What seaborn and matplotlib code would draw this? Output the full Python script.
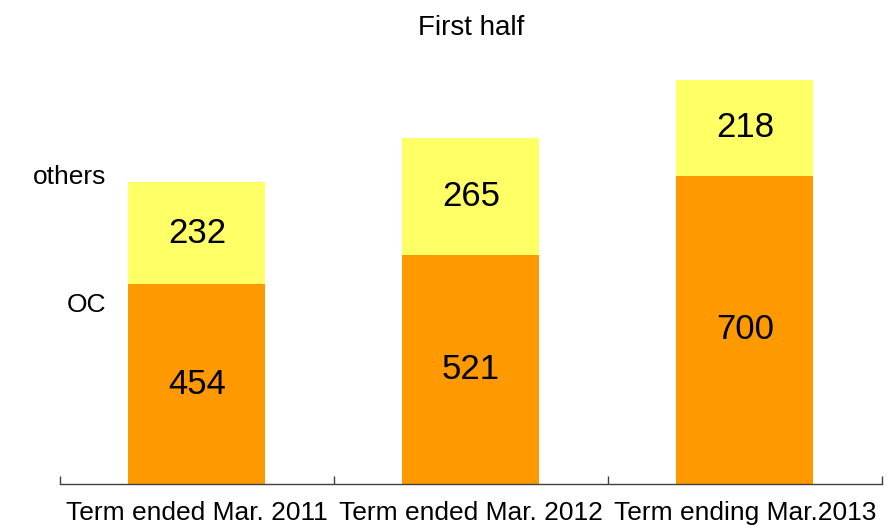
import numpy as np
import pandas as pd
import matplotlib.pyplot as plt
import seaborn as sns

# Datos (first half)
periodos = ["Term ended Mar. 2011", "Term ended Mar. 2012", "Term ending Mar.2013"]
oc = [454, 521, 700]
others = [232, 265, 218]

df = pd.DataFrame({"periodo": periodos, "oc": oc, "others": others})
df["total"] = df["oc"] + df["others"]

sns.set_style("white")
plt.rcParams["font.family"] = ["Liberation Sans", "DejaVu Sans"]
plt.rcParams["text.color"] = "black"
plt.rcParams["xtick.color"] = "black"

fig = plt.figure(figsize=(8.9, 5.28), dpi=100)
ax = fig.add_axes([0.0674, 0.0833, 0.9236, 0.834])

# barras apiladas: total en amarillo, OC encima en naranja
sns.barplot(data=df, x="periodo", y="total", color="#FFFF66", width=0.5,
            saturation=1, linewidth=0, ax=ax)
sns.barplot(data=df, x="periodo", y="oc", color="#FF9900", width=0.5,
            saturation=1, linewidth=0, ax=ax)

ax.bar_label(ax.containers[1], labels=[str(v) for v in oc], label_type="center",
             fontsize=25, padding=0, color="black")
for i, (o, s) in enumerate(zip(oc, others)):
    ax.text(i, o + s / 2, str(s), ha="center", va="center", fontsize=25)

# etiquetas de serie a la izquierda
ax.text(-0.33, 697, "others", ha="right", va="center", fontsize=19)
ax.text(-0.33, 406, "OC", ha="right", va="center", fontsize=19)

ax.set_xlim(-0.5, 2.5)
ax.set_ylim(0, 1000)
ax.set_title("First half", fontsize=20, pad=6, color="black")
ax.set_xlabel("")
ax.set_ylabel("")
ax.set_yticks([])

for s in ["left", "right", "top"]:
    ax.spines[s].set_visible(False)
ax.spines["bottom"].set_color("#404040")
ax.spines["bottom"].set_linewidth(1)

ax.set_xticks([0, 1, 2])
ax.set_xticklabels(periodos, fontsize=19)
ax.tick_params(axis="x", which="major", length=0, pad=12)
ax.set_xticks([-0.5, 0.5, 1.5, 2.5], minor=True)
ax.tick_params(axis="x", which="minor", direction="in", length=6, width=1,
               color="#404040", bottom=True)

fig.savefig("out.png", dpi=100)
